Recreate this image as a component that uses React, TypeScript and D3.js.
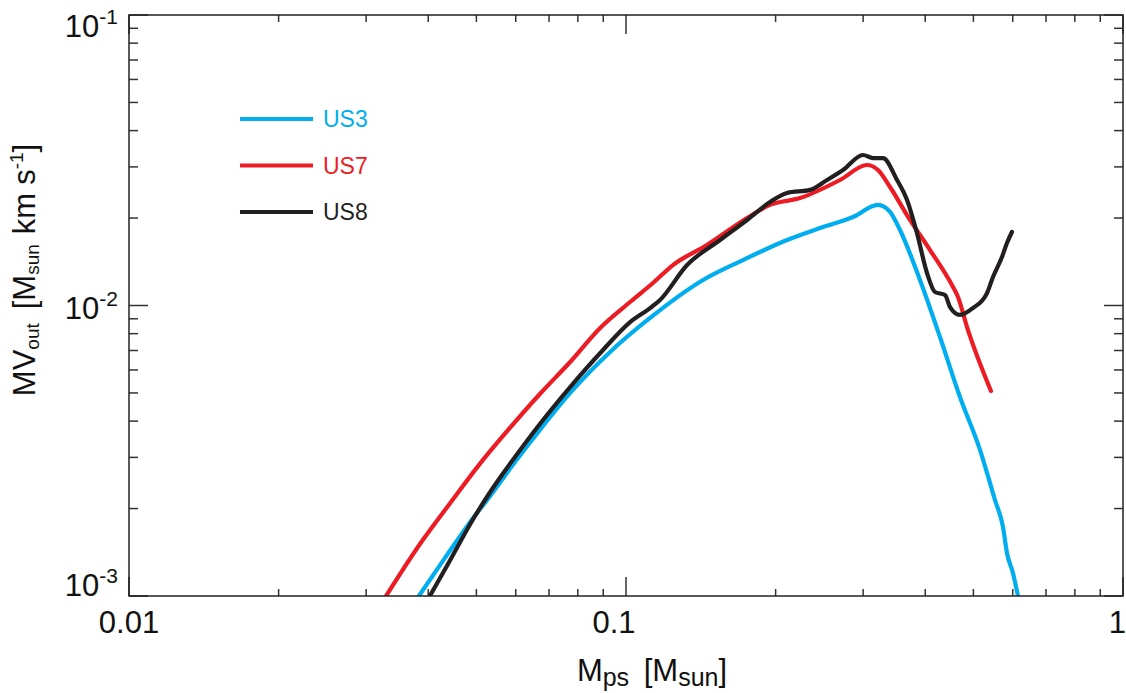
import React from 'react';
import * as d3 from 'd3';

// values (x in Msun, y in Msun km/s)
const us3X = [0.0383, 0.0432, 0.0479, 0.0533, 0.0598, 0.0671, 0.0772, 0.0929, 0.1118, 0.1429, 0.172, 0.2109, 0.2457, 0.2862, 0.3214, 0.3398, 0.3559, 0.3904, 0.4283, 0.4699, 0.5157, 0.5526, 0.5735, 0.5842, 0.6006, 0.6147];
const us3Y = [0.001, 0.00135, 0.00174, 0.00221, 0.00289, 0.00373, 0.005, 0.00692, 0.00906, 0.01224, 0.01434, 0.0168, 0.01848, 0.02017, 0.0222, 0.021, 0.01819, 0.01224, 0.00779, 0.00484, 0.00318, 0.00214, 0.001728, 0.001406, 0.0012, 0.001];

const us7X = [0.0329, 0.0385, 0.0443, 0.0508, 0.0584, 0.0671, 0.0772, 0.0887, 0.1019, 0.1133, 0.1243, 0.1455, 0.1752, 0.1949, 0.2239, 0.2695, 0.3054, 0.3214, 0.3398, 0.3727, 0.409, 0.4549, 0.4656, 0.4855, 0.5424];
const us7Y = [0.001, 0.00151, 0.00209, 0.00285, 0.00379, 0.00496, 0.00639, 0.00837, 0.01028, 0.01195, 0.01378, 0.01616, 0.02, 0.0222, 0.02344, 0.02704, 0.03046, 0.02927, 0.02558, 0.0197, 0.01552, 0.01158, 0.0107, 0.00843, 0.00508];

const us8X = [0.0403, 0.0443, 0.0486, 0.0533, 0.0598, 0.0671, 0.0772, 0.0899, 0.1019, 0.1118, 0.1171, 0.1327, 0.1546, 0.1752, 0.1949, 0.2109, 0.2346, 0.2538, 0.2733, 0.2999, 0.3141, 0.3289, 0.351, 0.3677, 0.3849, 0.4033, 0.4185, 0.4384, 0.4487, 0.4699, 0.499, 0.5326, 0.5475, 0.5708, 0.5842, 0.5978];
const us8Y = [0.001, 0.00133, 0.00177, 0.00228, 0.00301, 0.00391, 0.00524, 0.00703, 0.00877, 0.0098, 0.01045, 0.01378, 0.0168, 0.0197, 0.02272, 0.0244, 0.025, 0.02704, 0.02927, 0.03297, 0.03218, 0.03218, 0.02704, 0.02308, 0.01777, 0.01294, 0.01113, 0.01087, 0.00988, 0.00928, 0.0098, 0.01104, 0.01253, 0.01469, 0.01641, 0.01791];

const seriesNames = ['US3', 'US7', 'US8'];
const seriesColors = ['#00aeef', '#ed1c24', '#231f20'];

const xTicksMajor = [0.01, 0.1, 1];
const xTickLabels = ['0.01', '0.1', '1'];
const yTicksMajor = [0.1, 0.01, 0.001];
const yTickExps = ['-1', '-2', '-3'];

const W = 1126;
const H = 693;
const m = { left: 129, right: 3, top: 15, bottom: 97 };
const font = '"Liberation Sans", Arial, Helvetica, sans-serif';

export default function App() {
  const x = d3.scaleLog().domain([0.01, 1]).range([m.left, W - m.right]);
  const y = d3.scaleLog().domain([0.001, 0.1]).range([H - m.bottom, m.top]);

  const series = [
    us3X.map((v, i) => [v, us3Y[i]]),
    us7X.map((v, i) => [v, us7Y[i]]),
    us8X.map((v, i) => [v, us8Y[i]]),
  ];

  const line = d3.line<number[]>()
    .x(d => x(d[0]))
    .y(d => y(d[1]))
    .curve(d3.curveMonotoneX);

  const x0 = m.left, x1 = W - m.right, y0 = H - m.bottom, y1 = m.top;

  // minor ticks: 2..9 within each decade
  const xMinor: number[] = [];
  const yMinor: number[] = [];
  [0.01, 0.1].forEach(d => { for (let k = 2; k <= 9; k++) xMinor.push(d * k); });
  [0.001, 0.01].forEach(d => { for (let k = 2; k <= 9; k++) yMinor.push(d * k); });

  return (
    <svg width={W} height={H} style={{ position: 'absolute', left: 0, top: 0, background: '#fff' }}>
      <defs>
        <clipPath id="plot">
          <rect x={x0} y={y1} width={x1 - x0} height={y0 - y1} />
        </clipPath>
      </defs>

      {/* ticks */}
      <g stroke="#333" strokeWidth={1.5}>
        {xTicksMajor.map(t => (
          <g key={'xm' + t}>
            <line x1={x(t)} x2={x(t)} y1={y0} y2={y0 - 19} />
            <line x1={x(t)} x2={x(t)} y1={y1} y2={y1 + 19} />
          </g>
        ))}
        {xMinor.map(t => (
          <g key={'xn' + t}>
            <line x1={x(t)} x2={x(t)} y1={y0} y2={y0 - 7} />
            <line x1={x(t)} x2={x(t)} y1={y1} y2={y1 + 7} />
          </g>
        ))}
        {yTicksMajor.map(t => (
          <g key={'ym' + t}>
            <line x1={x0} x2={x0 + 19} y1={y(t)} y2={y(t)} />
            <line x1={x1} x2={x1 - 19} y1={y(t)} y2={y(t)} />
          </g>
        ))}
        {yMinor.map(t => (
          <g key={'yn' + t}>
            <line x1={x0} x2={x0 + 9} y1={y(t)} y2={y(t)} />
            <line x1={x1} x2={x1 - 9} y1={y(t)} y2={y(t)} />
          </g>
        ))}
      </g>

      {/* data */}
      <g clipPath="url(#plot)" fill="none" strokeWidth={4.2} strokeLinejoin="round" strokeLinecap="round">
        {series.map((s, i) => (
          <path key={seriesNames[i]} d={line(s) || ''} stroke={seriesColors[i]} />
        ))}
      </g>

      {/* frame */}
      <rect x={x0} y={y1} width={x1 - x0} height={y0 - y1} fill="none" stroke="#222" strokeWidth={1.5} />

      {/* tick labels */}
      <g fontFamily={font} fontSize={31} fill="#111">
        {xTicksMajor.map((t, i) => (
          <text key={'xl' + t} x={i === 2 ? W : x(t) - (i === 1 ? 12 : 0)} y={633}
            textAnchor={i === 2 ? 'end' : 'middle'}>{xTickLabels[i]}</text>
        ))}
        {yTicksMajor.map((t, i) => {
          const base = Math.min(Math.max(y(t) + 13, y1 + 22), y0);
          return (
            <text key={'yl' + t} x={118} y={base} textAnchor="end">
              10<tspan fontSize={21} dy={-13}>{yTickExps[i]}</tspan>
            </text>
          );
        })}
      </g>

      {/* axis titles */}
      <text x={652} y={681} textAnchor="middle" fontFamily={font} fontSize={31} fill="#111" wordSpacing={6}>
        M<tspan fontSize={25} dy={5}>ps</tspan><tspan dy={-5}> [M</tspan><tspan fontSize={25} dy={5}>sun</tspan><tspan dy={-5}>]</tspan>
      </text>
      <text transform={`translate(35, 270) rotate(-90)`} textAnchor="middle"
        fontFamily={font} fontSize={31} fill="#111">
        MV<tspan fontSize={19} dy={4}>out</tspan><tspan dy={-4} dx={14}>[M</tspan><tspan fontSize={19} dy={4}>sun</tspan>
        <tspan dy={-4} dx={10}>km</tspan><tspan dx={8}>s</tspan><tspan fontSize={19} dy={-12}>-1</tspan><tspan dy={12}>]</tspan>
      </text>

      {/* legend */}
      <g fontFamily={font} fontSize={23}>
        {seriesNames.map((n, i) => (
          <g key={'lg' + n} transform={`translate(240, ${119 + i * 46.5})`}>
            <line x1={0} x2={73} y1={0} y2={0} stroke={seriesColors[i]} strokeWidth={4} />
            <text x={83} y={8} fill={seriesColors[i]}>{n}</text>
          </g>
        ))}
      </g>
    </svg>
  );
}
